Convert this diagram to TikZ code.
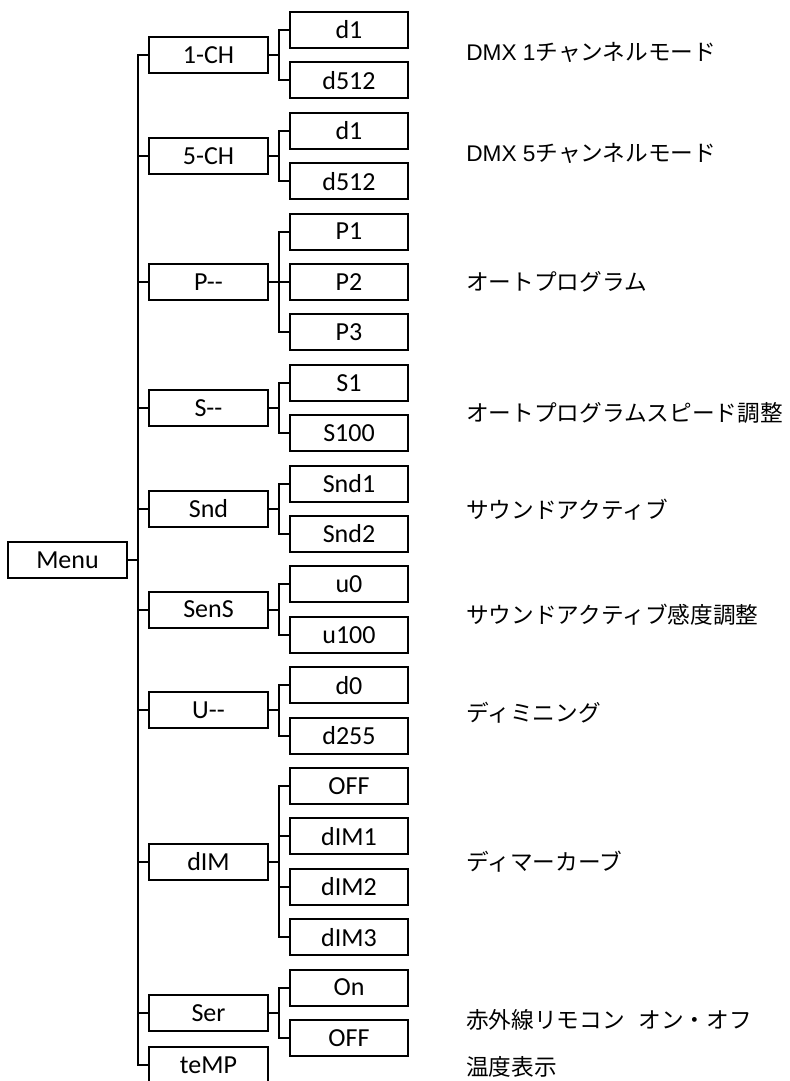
\documentclass[tikz,border=0pt]{standalone}
\usepackage{fontspec}
\setmainfont{Carlito}
\newfontfamily\jpfont{Noto Sans CJK JP}
\newfontfamily\lsans{Liberation Sans}

\tikzset{
  menubox/.style={draw, line width=1.6pt, minimum width=89pt, minimum height=27pt,
    inner sep=0pt, font=\fontsize{19.5}{20}\selectfont},
  desc/.style={anchor=west, inner sep=0pt, font=\jpfont\fontsize{17}{18}\selectfont},
  branch/.style={line width=1.6pt}
}

\begin{document}
\begin{tikzpicture}[x=0.75pt,y=-0.75pt]
\useasboundingbox (0,0) rectangle (789,1081);

% root
\node[menubox] (menu) at (67.5,560) {Menu};

% first level
\node[menubox] (ch1) at (208.5,55.2) {1-CH};
\node[menubox] (ch5) at (208.5,156) {5-CH};
\node[menubox] (prog) at (208.5,282) {P-{}-};
\node[menubox] (speed) at (208.5,408) {S-{}-};
\node[menubox] (snd) at (208.5,508.8) {Snd};
\node[menubox] (sens) at (208.5,609.6) {SenS};
\node[menubox] (dimr) at (208.5,710.4) {U-{}-};
\node[menubox] (dim) at (208.5,861.6) {dIM};
\node[menubox] (ser) at (208.5,1012.8) {Ser};
\node[menubox] (temp) at (208.5,1065) {teMP};

% second level
\node[menubox] (ch1a) at (349,30) {d1};
\node[menubox] (ch1b) at (349,80.4) {d512};
\node[menubox] (ch5a) at (349,130.8) {d1};
\node[menubox] (ch5b) at (349,181.2) {d512};
\node[menubox] (proga) at (349,231.6) {P1};
\node[menubox] (progb) at (349,282) {P2};
\node[menubox] (progc) at (349,332.4) {P3};
\node[menubox] (speeda) at (349,382.8) {S1};
\node[menubox] (speedb) at (349,433.2) {S100};
\node[menubox] (snda) at (349,483.6) {Snd1};
\node[menubox] (sndb) at (349,534) {Snd2};
\node[menubox] (sensa) at (349,584.4) {u0};
\node[menubox] (sensb) at (349,634.8) {u100};
\node[menubox] (dimra) at (349,685.2) {d0};
\node[menubox] (dimrb) at (349,735.6) {d255};
\node[menubox] (dima) at (349,786) {OFF};
\node[menubox] (dimb) at (349,836.4) {dIM1};
\node[menubox] (dimc) at (349,886.8) {dIM2};
\node[menubox] (dimd) at (349,937.2) {dIM3};
\node[menubox] (sera) at (349,987.6) {On};
\node[menubox] (serb) at (349,1038) {OFF};

% connectors
\foreach \c in {ch1,ch5,prog,speed,snd,sens,dimr,dim,ser,temp}
  \draw[branch] (menu.east) -- ++(10,0) |- (\c.west);
\foreach \p/\c in {ch1/ch1a,ch1/ch1b,ch5/ch5a,ch5/ch5b,prog/proga,prog/progb,prog/progc,
    speed/speeda,speed/speedb,snd/snda,snd/sndb,sens/sensa,sens/sensb,
    dimr/dimra,dimr/dimrb,dim/dima,dim/dimb,dim/dimc,dim/dimd,ser/sera,ser/serb}
  \draw[branch] (\p.east) -- ++(10,0) |- (\c.west);

% labels
\node[desc] (ch1t) at (466,52) {{\lsans DMX 1}チャンネルモード};
\node[desc] (ch5t) at (466,153) {{\lsans DMX 5}チャンネルモード};
\node[desc] (progt) at (466,282) {オートプログラム};
\node[desc] (speedt) at (466,413) {オートプログラムスピード調整};
\node[desc] (sndt) at (466,510) {サウンドアクティブ};
\node[desc] (senst) at (466,615) {サウンドアクティブ感度調整};
\node[desc] (dimrt) at (466,713) {ディミニング};
\node[desc] (dimt) at (466,862) {ディマーカーブ};
\node[desc] (sert) at (466,1020) {赤外線リモコン\hspace{0.6em}オン・オフ};
\node[desc] (tempt) at (466,1067) {温度表示};
\end{tikzpicture}
\end{document}
